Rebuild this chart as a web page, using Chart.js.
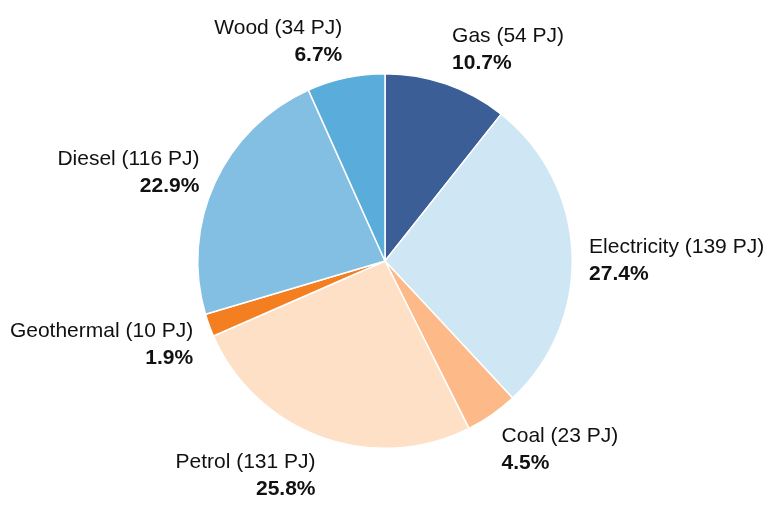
<!DOCTYPE html>
<html>
<head>
<meta charset="utf-8">
<script src="https://cdn.jsdelivr.net/npm/chart.js@4"></script>
<style>
  html, body { margin: 0; padding: 0; background: #fff; }
  #wrap { width: 774px; height: 509px; }
</style>
</head>
<body>
<div id="wrap"><canvas id="energyPie"></canvas></div>
<script>
const categories = ["Gas", "Electricity", "Coal", "Petrol", "Geothermal", "Diesel", "Wood"];
const energyPJ = [54, 139, 23, 131, 10, 116, 34];
const percentLabels = ["10.7%", "27.4%", "4.5%", "25.8%", "1.9%", "22.9%", "6.7%"];
const sliceColors = ["#3a5e95", "#cfe6f4", "#fdb987", "#fde0c6", "#f47f20", "#82bfe2", "#5aaddb"];

// labels outside the pie, two lines each
const outsideLabels = {
  id: "outsideLabels",
  afterDatasetsDraw(chart) {
    const ctx = chart.ctx;
    const arcs = chart.getDatasetMeta(0).data;
    ctx.save();
    arcs.forEach((arc, i) => {
      const mid = (arc.startAngle + arc.endAngle) / 2;
      const ux = Math.cos(mid), uy = Math.sin(mid);
      const d = arc.outerRadius + 17;
      const ax = arc.x + ux * d, ay = arc.y + uy * d;
      const h = 44;
      const top = ay - h * (1 - uy) / 2 + 7 * (1 - Math.abs(uy));
      ctx.textAlign = ux >= 0 ? "left" : "right";
      ctx.textBaseline = "alphabetic";
      ctx.fillStyle = "#111";
      ctx.font = "21px 'Liberation Sans', Arial, sans-serif";
      ctx.fillText(categories[i] + " (" + energyPJ[i] + " PJ)", ax, top + 16);
      ctx.font = "bold 21px 'Liberation Sans', Arial, sans-serif";
      ctx.fillText(percentLabels[i], ax, top + 43);
    });
    ctx.restore();
  }
};

new Chart(document.getElementById("energyPie").getContext("2d"), {
  type: "pie",
  data: {
    labels: categories,
    datasets: [{
      data: energyPJ,
      backgroundColor: sliceColors,
      borderColor: "#ffffff",
      borderWidth: 1.5
    }]
  },
  options: {
    responsive: true,
    maintainAspectRatio: false,
    animation: false,
    layout: { padding: { top: 73, bottom: 60, left: 197, right: 201 } },
    plugins: {
      legend: { display: false },
      tooltip: { enabled: false }
    }
  },
  plugins: [outsideLabels]
});
</script>
</body>
</html>
